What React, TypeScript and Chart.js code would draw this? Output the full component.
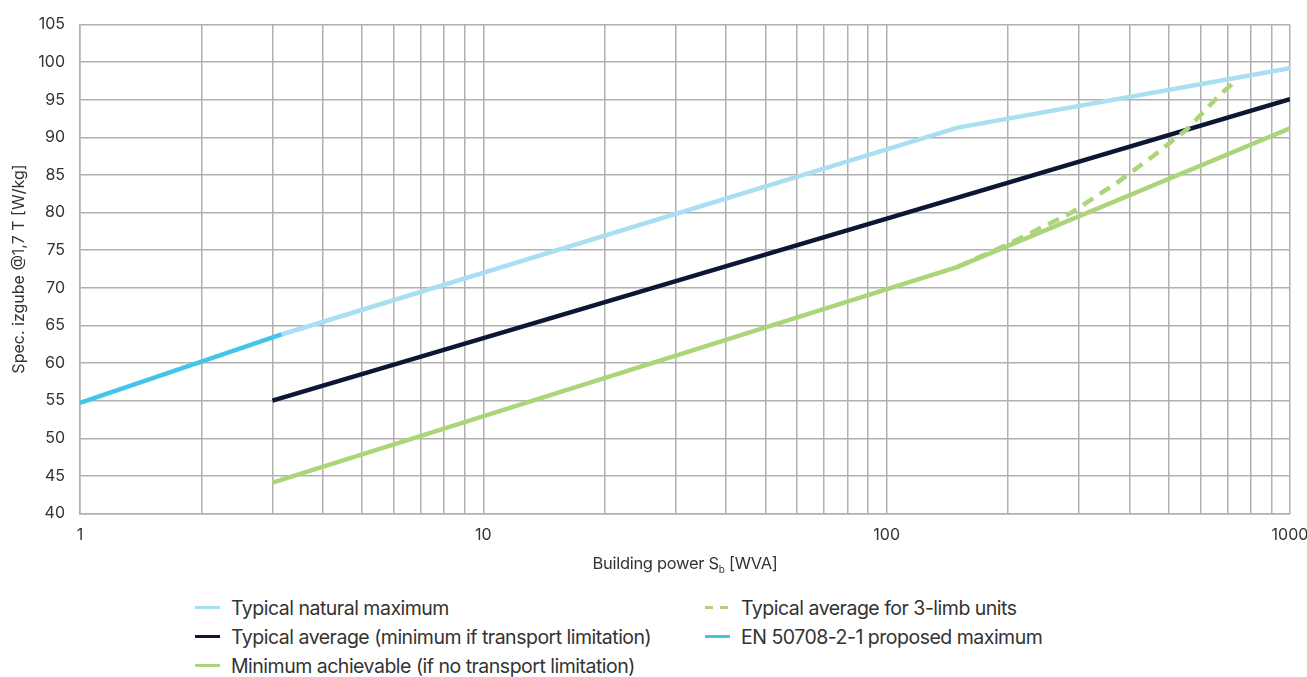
import React, { useEffect, useRef } from "react";
import { Chart, registerables } from "chart.js";

Chart.register(...registerables);

// ---- data ----
const xGridValues = [1, 2, 3, 4, 5, 6, 7, 8, 9, 10, 20, 30, 40, 50, 60, 70, 80, 90, 100, 200, 300, 400, 500, 600, 700, 800, 900, 1000];
const xMajorValues = [1, 10, 100, 1000];
const xTickLabels = ["1", "10", "100", "1000"];

const naturalMaxX = [3.16, 150, 1000];
const naturalMaxY = [63.8, 91.3, 99.2];

const averageX = [3, 1000];
const averageY = [55.0, 95.1];

const minimumX = [3, 150, 1000];
const minimumY = [44.1, 72.8, 91.2];

const threeLimbX = [150, 200, 285, 373, 460, 556, 671, 740];
const threeLimbY = [72.8, 75.8, 79.9, 84.0, 87.6, 91.1, 95.7, 97.7];

const enX = [1, 3.16];
const enY = [54.7, 63.8];

const seriesLabels = [
  "Typical natural maximum",
  "Typical average (minimum if transport limitation)",
  "Minimum achievable (if no transport limitation)",
  "Typical average for 3-limb units",
  "EN 50708-2-1 proposed maximum",
];

const COLORS = {
  natural: "#a9def3",
  average: "#0b1733",
  minimum: "#acd57a",
  threeLimb: "#acd57a",
  en: "#45c4ea",
  grid: "#b0b0b0",
  text: "#333333",
};

const FONT = "Inter, 'Noto Sans', sans-serif";

const zip = (xs: number[], ys: number[]) => xs.map((x, i) => ({ x, y: ys[i] }));

const CANVAS_W = 1307;
const CANVAS_H = 580;

function LegendItem({ label, color, dashed, left, top }: { label: string; color: string; dashed?: boolean; left: number; top: number }) {
  const sample = dashed
    ? { backgroundImage: `repeating-linear-gradient(to right, ${color} 0 8px, transparent 8px 15px)` }
    : { background: color };
  return (
    <div style={{ position: "absolute", left, top, height: 29, display: "flex", alignItems: "center", whiteSpace: "nowrap" }}>
      <span style={{ display: "inline-block", width: 25, height: 3, ...sample }} />
      <span style={{ marginLeft: 11, fontFamily: FONT, fontSize: 19.5, color: COLORS.text, letterSpacing: -0.5 }}>{label}</span>
    </div>
  );
}

export default function App() {
  const ref = useRef<HTMLCanvasElement | null>(null);

  useEffect(() => {
    if (!ref.current) return;
    const chart = new Chart(ref.current, {
      type: "line",
      data: {
        datasets: [
          {
            label: seriesLabels[3],
            data: zip(threeLimbX, threeLimbY),
            borderColor: COLORS.threeLimb,
            borderWidth: 4.5,
            borderDash: [12, 8],
            pointRadius: 0,
            fill: false,
            order: 0,
          },
          {
            label: seriesLabels[4],
            data: zip(enX, enY),
            borderColor: COLORS.en,
            borderWidth: 4.5,
            pointRadius: 0,
            fill: false,
            order: 1,
          },
          {
            label: seriesLabels[1],
            data: zip(averageX, averageY),
            borderColor: COLORS.average,
            borderWidth: 4.5,
            pointRadius: 0,
            fill: false,
            order: 2,
          },
          {
            label: seriesLabels[2],
            data: zip(minimumX, minimumY),
            borderColor: COLORS.minimum,
            borderWidth: 4.5,
            pointRadius: 0,
            fill: false,
            order: 3,
          },
          {
            label: seriesLabels[0],
            data: zip(naturalMaxX, naturalMaxY),
            borderColor: COLORS.natural,
            borderWidth: 4.5,
            pointRadius: 0,
            fill: false,
            order: 4,
          },
        ],
      },
      options: {
        animation: false,
        responsive: false,
        maintainAspectRatio: false,
        layout: { padding: { left: 0, right: 0, top: 22, bottom: 0 } },
        plugins: { legend: { display: false }, tooltip: { enabled: false } },
        scales: {
          x: {
            type: "logarithmic",
            min: 1,
            max: 1000,
            afterBuildTicks: (s: any) => {
              s.ticks = xGridValues.map((v) => ({ value: v, major: xMajorValues.includes(v) }));
            },
            afterFit: (s: any) => {
              s.height = CANVAS_H - 513.5;
              s.paddingRight = 17;
              s.paddingLeft = 0;
            },
            ticks: {
              autoSkip: false,
              maxRotation: 0,
              padding: 12,
              color: COLORS.text,
              font: { family: FONT, size: 16 },
              callback: (v: any) => {
                const i = xMajorValues.indexOf(Number(v));
                return i >= 0 ? xTickLabels[i] : "";
              },
            },
            grid: { color: COLORS.grid, lineWidth: 1.5, drawTicks: false },
            border: { color: COLORS.grid, width: 1.5 },
          },
          y: {
            type: "linear",
            min: 40,
            max: 105,
            afterFit: (s: any) => {
              s.width = 80;
            },
            ticks: {
              stepSize: 5,
              padding: 15,
              color: COLORS.text,
              font: { family: FONT, size: 16 },
            },
            grid: { color: COLORS.grid, lineWidth: 1.5, drawTicks: false },
            border: { color: COLORS.grid, width: 1.5 },
            title: {
              display: true,
              text: "Spec. izgube @1,7 T [W/kg]",
              color: COLORS.text,
              font: { family: FONT, size: 16 },
              padding: { top: 10, bottom: 0 },
            },
          },
        },
      },
    } as any);
    return () => chart.destroy();
  }, []);

  return (
    <div style={{ position: "absolute", left: 0, top: 0, width: 1307, height: 677, background: "#fff" }}>
      <canvas ref={ref} width={CANVAS_W} height={CANVAS_H} style={{ position: "absolute", left: 0, top: 0, width: CANVAS_W, height: CANVAS_H }} />
      <div
        style={{
          position: "absolute",
          left: 80,
          width: 1210,
          top: 553,
          textAlign: "center",
          fontFamily: FONT,
          fontSize: 16.5,
          color: COLORS.text,
          letterSpacing: -0.3,
        }}
      >
        Building power S<sub style={{ fontSize: 10 }}>b</sub> [WVA]
      </div>
      <LegendItem label={seriesLabels[0]} color={COLORS.natural} left={195} top={593} />
      <LegendItem label={seriesLabels[1]} color={COLORS.average} left={195} top={622} />
      <LegendItem label={seriesLabels[2]} color={COLORS.minimum} left={195} top={651} />
      <LegendItem label={seriesLabels[3]} color={COLORS.threeLimb} dashed left={705} top={593} />
      <LegendItem label={seriesLabels[4]} color={COLORS.en} left={705} top={622} />
    </div>
  );
}
